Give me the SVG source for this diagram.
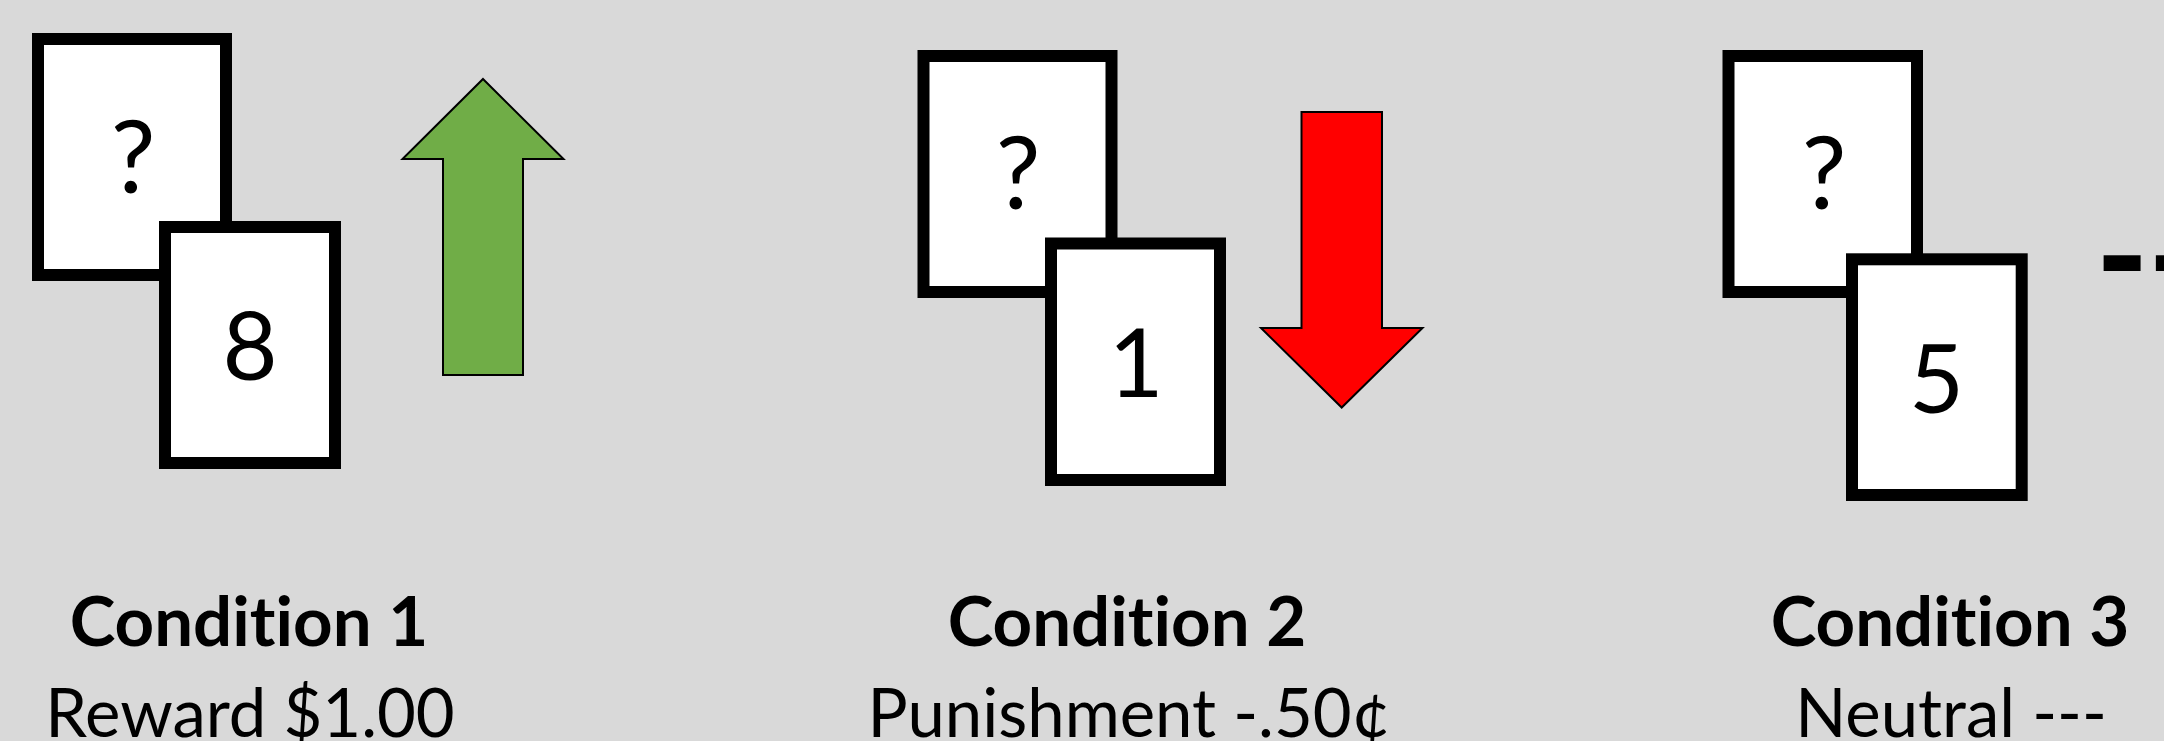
<svg xmlns="http://www.w3.org/2000/svg" width="2164" height="741" viewBox="0 0 2164 741">
<style>
text{font-variant-ligatures:none;font-feature-settings:"liga" 0,"clig" 0}
.card{fill:#fff;stroke:#000;stroke-width:12}
.q{font-family:Lato,"Liberation Sans",sans-serif;font-size:100px;text-anchor:middle;fill:#000}
.num{font-family:Lato,"Liberation Sans",sans-serif;font-size:95px;text-anchor:middle;fill:#000}
.title{font-family:Lato,"Liberation Sans",sans-serif;font-size:69px;font-weight:bold;text-anchor:middle;fill:#000}
.sub{font-family:Lato,"Liberation Sans",sans-serif;font-size:67px;text-anchor:middle;fill:#000}
.arrow{stroke:#000;stroke-width:2;stroke-linejoin:miter}
</style>
<rect x="0" y="0" width="2164" height="741" fill="#D9D9D9"/>
<g id="condition1">
  <rect class="card" x="38" y="39" width="188" height="236"/>
  <text class="q" x="133" y="193">?</text>
  <rect class="card" x="165" y="227" width="170" height="236"/>
  <text class="num" x="250" y="380">8</text>
  <polygon class="arrow" fill="#70AD47" points="483,79 563.5,159 523,159 523,375 443,375 443,159 402.5,159"/>
  <text class="title" x="249" y="646">Condition 1</text>
  <text class="sub" x="250" y="737">Reward $1.00</text>
</g>
<g id="condition2">
  <rect class="card" x="923.5" y="56" width="188" height="236"/>
  <text class="q" x="1018" y="209">?</text>
  <rect class="card" x="1051" y="243.5" width="169" height="236.5"/>
  <text class="num" x="1136" y="397">1</text>
  <polygon class="arrow" fill="#FF0000" points="1301.5,112 1382,112 1382,328 1422.5,328 1341.7,407.5 1261,328 1301.5,328"/>
  <text class="title" x="1127" y="646">Condition 2</text>
  <text class="sub" x="1129" y="737">Punishment -.50¢</text>
</g>
<g id="condition3">
  <rect class="card" x="1728.5" y="56" width="188.5" height="236"/>
  <text class="q" x="1824" y="209">?</text>
  <rect class="card" x="1852" y="259.3" width="169.7" height="235.7"/>
  <text class="num" x="1936.5" y="413">5</text>
  <text x="2096" y="305" font-family="Lato,'Liberation Sans',sans-serif" font-size="140" font-weight="900" fill="#000">---</text>
  <text class="title" x="1950" y="646">Condition 3</text>
  <text class="sub" x="1951" y="737">Neutral ---</text>
</g>
<g id="connectors"/>
</svg>
